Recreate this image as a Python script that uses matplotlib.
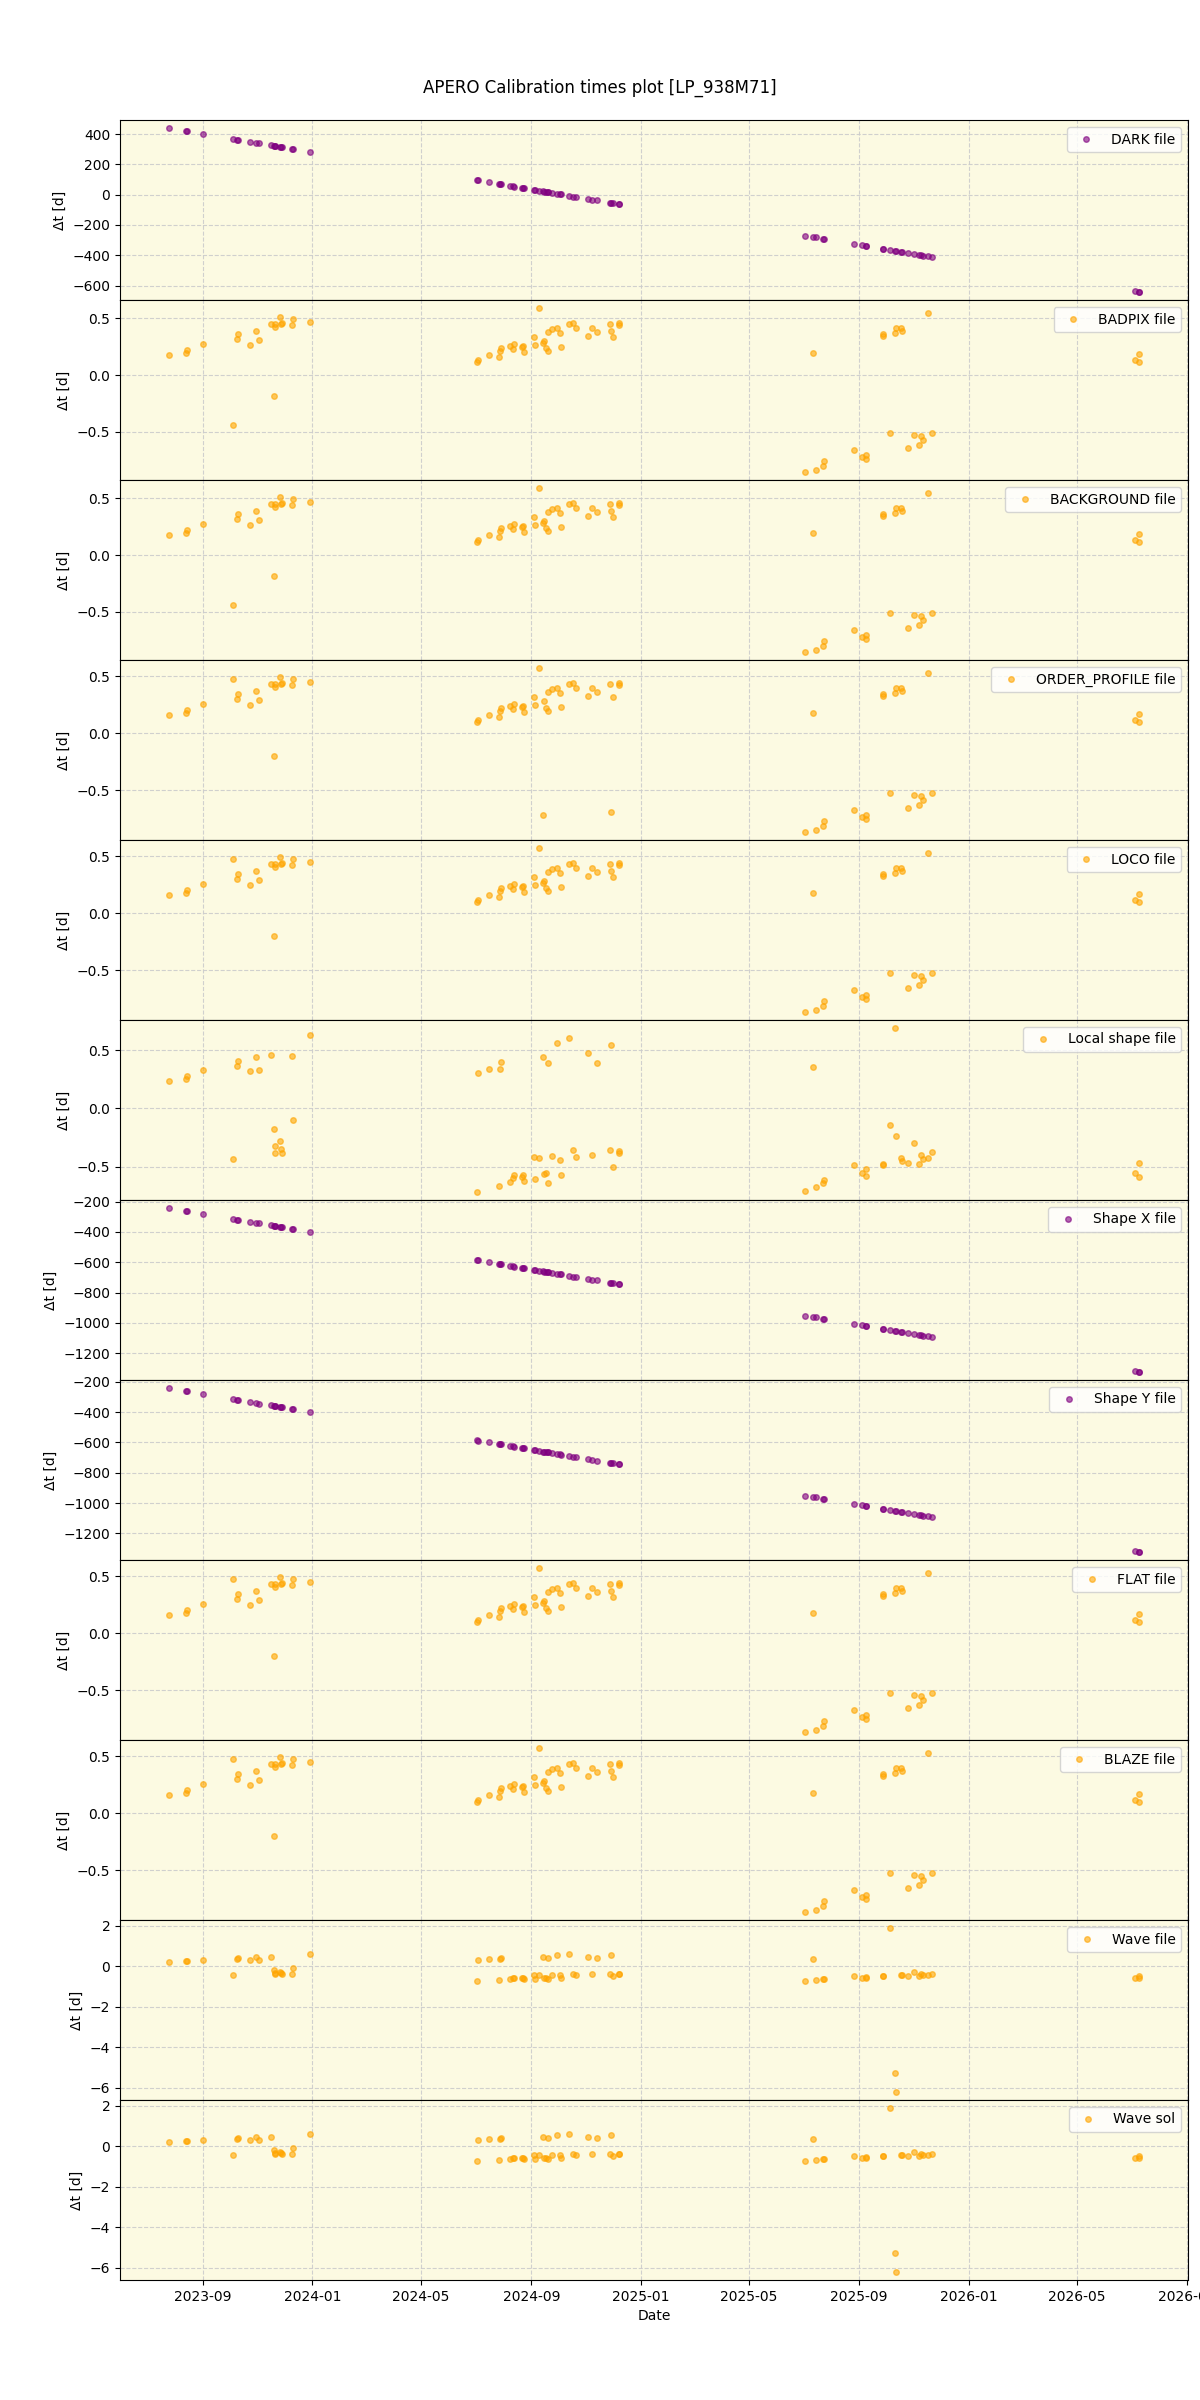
import pandas as pd
import matplotlib
matplotlib.use('Agg')
import matplotlib.pyplot as plt
import matplotlib.dates as mdates

# Дати спостережень (спільні для всіх панелей)
dates = pd.to_datetime([
    '2023-07-25', '2023-08-13', '2023-08-14', '2023-09-01', '2023-10-05',
    '2023-10-09', '2023-10-10', '2023-10-24', '2023-10-30', '2023-11-03',
    '2023-11-16', '2023-11-19', '2023-11-20', '2023-11-21', '2023-11-26',
    '2023-11-27', '2023-11-28', '2023-12-09', '2023-12-11', '2023-12-30',
    '2024-07-02', '2024-07-04', '2024-07-16', '2024-07-27', '2024-07-28',
    '2024-07-29', '2024-08-08', '2024-08-11', '2024-08-13', '2024-08-21',
    '2024-08-23', '2024-08-24', '2024-09-04', '2024-09-05', '2024-09-09',
    '2024-09-14', '2024-09-15', '2024-09-17', '2024-09-19', '2024-09-20',
    '2024-09-24', '2024-09-30', '2024-10-03', '2024-10-04', '2024-10-13',
    '2024-10-17', '2024-10-21', '2024-11-03', '2024-11-08', '2024-11-13',
    '2024-11-27', '2024-11-29', '2024-12-01', '2024-12-07', '2024-12-08',
    '2025-07-03', '2025-07-12', '2025-07-15', '2025-07-23', '2025-07-24',
    '2025-08-26', '2025-09-04', '2025-09-08', '2025-09-09', '2025-09-28',
    '2025-09-28', '2025-10-05', '2025-10-11', '2025-10-12', '2025-10-18',
    '2025-10-19', '2025-10-25', '2025-11-01', '2025-11-06', '2025-11-09',
    '2025-11-11', '2025-11-17', '2025-11-21',
    '2026-07-05', '2026-07-09', '2026-07-10',
])

dark_dt = [439, 420, 419, 401, 367, 363, 362, 348, 342, 338,
           325, 322, 321, 320, 315, 314, 313, 302, 300, 281,
           96, 94, 82, 71, 70, 69, 59, 56, 54, 46,
           44, 43, 32, 31, 27, 22, 21, 18, 17, 16,
           12, 6, 3, 2, -7, -12, -15, -28, -33, -38,
           -52, -54, -56, -62, -63,
           -270, -279, -282, -290, -291, -325, -334, -337, -338, -357,
           -357, -364, -370, -372, -377, -378, -384, -391, -396, -399,
           -402, -407, -411,
           -636, -639, -641]

badpix_dt = [0.175, 0.193, 0.222, 0.272, -0.439, 0.316, 0.360, 0.263, 0.386, 0.307,
             0.447, -0.184, 0.447, 0.421, 0.509, 0.450, 0.456, 0.439, 0.491, 0.465,
             0.114, 0.132, 0.175, 0.158, 0.211, 0.237, 0.254, 0.228, 0.275, 0.246,
             0.254, 0.202, 0.333, 0.263, 0.588, 0.281, 0.298, 0.237, 0.211, 0.377,
             0.404, 0.412, 0.368, 0.246, 0.447, 0.456, 0.412, 0.342, 0.412, 0.377,
             0.447, 0.386, 0.333, 0.456, 0.439,
             -0.851, 0.193, -0.833, -0.798, -0.754, -0.658, -0.719, -0.702, -0.737, 0.360,
             0.342, -0.509, 0.368, 0.412, 0.412, 0.386, -0.640, -0.526, -0.614, -0.535,
             -0.570, 0.544, -0.509,
             0.132, 0.114, 0.184]

loco_dt = [0.160, 0.178, 0.207, 0.257, 0.480, 0.301, 0.345, 0.248, 0.371, 0.292,
           0.432, -0.199, 0.432, 0.406, 0.494, 0.435, 0.441, 0.424, 0.476, 0.450,
           0.099, 0.117, 0.160, 0.143, 0.196, 0.222, 0.239, 0.213, 0.260, 0.231,
           0.239, 0.187, 0.318, 0.248, 0.573, 0.266, 0.283, 0.222, 0.196, 0.362,
           0.389, 0.397, 0.353, 0.231, 0.432, 0.441, 0.397, 0.327, 0.397, 0.362,
           0.432, 0.371, 0.318, 0.441, 0.424,
           -0.866, 0.178, -0.848, -0.813, -0.769, -0.673, -0.734, -0.717, -0.752, 0.345,
           0.327, -0.524, 0.353, 0.397, 0.397, 0.371, -0.655, -0.541, -0.629, -0.550,
           -0.585, 0.529, -0.524,
           0.117, 0.099, 0.169]

order_dt = [0.160, 0.178, 0.207, 0.257, 0.480, 0.301, 0.345, 0.248, 0.371, 0.292,
            0.432, -0.199, 0.432, 0.406, 0.494, 0.435, 0.441, 0.424, 0.476, 0.450,
            0.099, 0.117, 0.160, 0.143, 0.196, 0.222, 0.239, 0.213, 0.260, 0.231,
            0.239, 0.187, 0.318, 0.248, 0.573, -0.720, 0.283, 0.222, 0.196, 0.362,
            0.389, 0.397, 0.353, 0.231, 0.432, 0.441, 0.397, 0.327, 0.397, 0.362,
            0.432, -0.690, 0.318, 0.441, 0.424,
            -0.866, 0.178, -0.848, -0.813, -0.769, -0.673, -0.734, -0.717, -0.752, 0.345,
            0.327, -0.524, 0.353, 0.397, 0.397, 0.371, -0.655, -0.541, -0.629, -0.550,
            -0.585, 0.529, -0.524,
            0.117, 0.099, 0.169]

local_dt = [0.234, 0.251, 0.277, 0.329, -0.434, 0.363, 0.406, 0.320, 0.440, 0.329,
            0.457, -0.177, -0.323, -0.383, -0.280, -0.349, -0.383, 0.449, -0.100, 0.629,
            -0.717, 0.303, 0.337, -0.666, 0.337, 0.397, -0.631, -0.597, -0.571, -0.589,
            -0.571, -0.623, -0.414, -0.606, -0.426, 0.440, -0.563, -0.554, -0.640, 0.389,
            -0.409, 0.560, -0.443, -0.571, 0.603, -0.357, -0.417, 0.474, -0.400, 0.389,
            -0.357, 0.543, -0.503, -0.366, -0.383,
            -0.709, 0.354, -0.674, -0.640, -0.614, -0.486, -0.554, -0.520, -0.580, -0.477,
            -0.486, -0.143, 0.689, -0.237, -0.426, -0.451, -0.469, -0.297, -0.477, -0.400,
            -0.434, -0.426, -0.374,
            -0.554, -0.589, -0.469]

shapex_dt = [-243, -262, -263, -281, -316, -319, -320, -334, -340, -344,
             -357, -360, -361, -362, -367, -368, -369, -380, -382, -401,
             -586, -588, -600, -611, -612, -613, -623, -626, -628, -636,
             -638, -639, -650, -651, -655, -660, -661, -664, -665, -666,
             -670, -676, -679, -680, -689, -694, -697, -710, -715, -720,
             -734, -736, -738, -744, -745,
             -952, -961, -964, -972, -973, -1007, -1016, -1019, -1020, -1039,
             -1039, -1046, -1052, -1054, -1059, -1060, -1066, -1073, -1078, -1081,
             -1084, -1089, -1093,
             -1318, -1321, -1323]

shapey_dt = [-242, -262, -263, -280, -315, -319, -320, -333, -339, -344,
             -356, -359, -361, -362, -366, -368, -369, -379, -382, -400,
             -585, -588, -599, -610, -612, -613, -622, -626, -627, -636,
             -637, -639, -649, -651, -654, -660, -661, -663, -664, -666,
             -670, -675, -678, -680, -688, -693, -697, -709, -714, -720,
             -733, -735, -738, -743, -745,
             -951, -960, -963, -971, -973, -1006, -1015, -1018, -1020, -1038,
             -1039, -1045, -1051, -1053, -1058, -1060, -1065, -1072, -1077, -1080,
             -1083, -1088, -1092,
             -1317, -1320, -1322]

wave_dt = [0.197, 0.246, 0.246, 0.296, -0.443, 0.345, 0.378, 0.296, 0.443, 0.296,
           0.443, -0.197, -0.394, -0.345, -0.296, -0.345, -0.394, -0.394, -0.099, 0.591,
           -0.739, 0.296, 0.345, -0.690, 0.345, 0.378, -0.640, -0.591, -0.591, -0.591,
           -0.591, -0.640, -0.443, -0.640, -0.443, 0.443, -0.591, -0.591, -0.640, 0.394,
           -0.443, 0.542, -0.443, -0.591, 0.591, -0.394, -0.443, 0.443, -0.394, 0.394,
           -0.394, 0.542, -0.493, -0.394, -0.394,
           -0.739, 0.345, -0.690, -0.640, -0.640, -0.493, -0.591, -0.542, -0.591, -0.493,
           -0.493, 1.872, -5.270, -6.210, -0.443, -0.443, -0.493, -0.296, -0.493, -0.394,
           -0.443, -0.443, -0.394,
           -0.591, -0.591, -0.493]

labels = ['DARK file', 'BADPIX file', 'BACKGROUND file', 'ORDER_PROFILE file',
          'LOCO file', 'Local shape file', 'Shape X file', 'Shape Y file',
          'FLAT file', 'BLAZE file', 'Wave file', 'Wave sol']
series = [dark_dt, badpix_dt, badpix_dt, order_dt, loco_dt, local_dt,
          shapex_dt, shapey_dt, loco_dt, loco_dt, wave_dt, wave_dt]
colors = ['purple', 'orange', 'orange', 'orange', 'orange', 'orange',
          'purple', 'purple', 'orange', 'orange', 'orange', 'orange']

fig, axes = plt.subplots(len(labels), 1, figsize=(12, 24), sharex=True)
fig.subplots_adjust(left=0.1, right=0.99, top=0.95, bottom=0.05, hspace=0)

for ax, lab, vals, col in zip(axes, labels, series, colors):
    ax.set_facecolor('#fcfae2')
    ax.plot(dates, vals, 'o', color=col, ms=4, alpha=0.6, label=lab)
    ax.set_ylabel('Δt [d]')
    ax.grid(True, linestyle='--', color='#cccccc', alpha=0.9)
    ax.legend(loc='upper right')

axes[-1].xaxis.set_major_locator(mdates.MonthLocator(bymonth=[1, 5, 9]))
axes[-1].xaxis.set_major_formatter(mdates.DateFormatter('%Y-%m'))
axes[-1].set_xlabel('Date')

fig.suptitle('APERO Calibration times plot [LP_938M71]', y=0.967, fontsize=12)
fig.savefig('out.png', dpi=100)
